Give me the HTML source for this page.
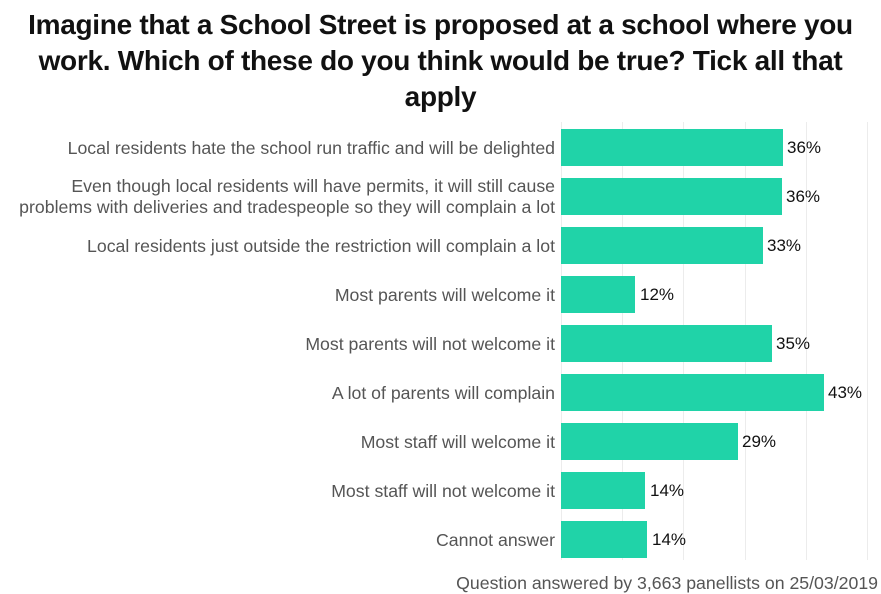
<!DOCTYPE html><html><head><style>
body{margin:0;width:881px;height:594px;background:#fff;font-family:"Liberation Sans",sans-serif;position:relative;overflow:hidden}
.t{position:absolute;left:0;width:881px;top:7px;text-align:center;font-weight:bold;font-size:28px;line-height:36px;color:#111;letter-spacing:-0.3px}
.g{position:absolute;top:122px;height:438px;width:1px;background:#ececec}
.b{position:absolute;left:561px;height:37px;background:#20d3a8}
.v{position:absolute;font-size:17px;color:#111;line-height:20px}
.l{position:absolute;right:326px;font-size:17.7px;color:#555;text-align:right;line-height:21px;white-space:nowrap}
.f{position:absolute;right:3px;top:573px;font-size:17.7px;color:#555;white-space:nowrap}
</style></head><body>
<div class="t">Imagine that a School Street is proposed at a school where you<br>work. Which of these do you think would be true? Tick all that<br>apply</div>
<div class="g" style="left:561px"></div><div class="g" style="left:622px"></div><div class="g" style="left:683px"></div><div class="g" style="left:745px"></div><div class="g" style="left:806px"></div><div class="g" style="left:867px"></div>
<div class="b" style="top:129px;width:222px"></div><div class="v" style="left:787px;top:138px">36%</div>
<div class="b" style="top:178px;width:221px"></div><div class="v" style="left:786px;top:187px">36%</div>
<div class="b" style="top:227px;width:202px"></div><div class="v" style="left:767px;top:236px">33%</div>
<div class="b" style="top:276px;width:74px"></div><div class="v" style="left:640px;top:285px">12%</div>
<div class="b" style="top:325px;width:211px"></div><div class="v" style="left:776px;top:334px">35%</div>
<div class="b" style="top:374px;width:263px"></div><div class="v" style="left:828px;top:383px">43%</div>
<div class="b" style="top:423px;width:177px"></div><div class="v" style="left:742px;top:432px">29%</div>
<div class="b" style="top:472px;width:84px"></div><div class="v" style="left:650px;top:481px">14%</div>
<div class="b" style="top:521px;width:86px"></div><div class="v" style="left:652px;top:530px">14%</div>
<div class="l" style="top:138px">Local residents hate the school run traffic and will be delighted</div>
<div class="l" style="top:176px">Even though local residents will have permits, it will still cause<br>problems with deliveries and tradespeople so they will complain a lot</div>
<div class="l" style="top:236px">Local residents just outside the restriction will complain a lot</div>
<div class="l" style="top:285px">Most parents will welcome it</div>
<div class="l" style="top:334px">Most parents will not welcome it</div>
<div class="l" style="top:383px">A lot of parents will complain</div>
<div class="l" style="top:432px">Most staff will welcome it</div>
<div class="l" style="top:481px">Most staff will not welcome it</div>
<div class="l" style="top:530px">Cannot answer</div>
<div class="f">Question answered by 3,663 panellists on 25/03/2019</div>
</body></html>
